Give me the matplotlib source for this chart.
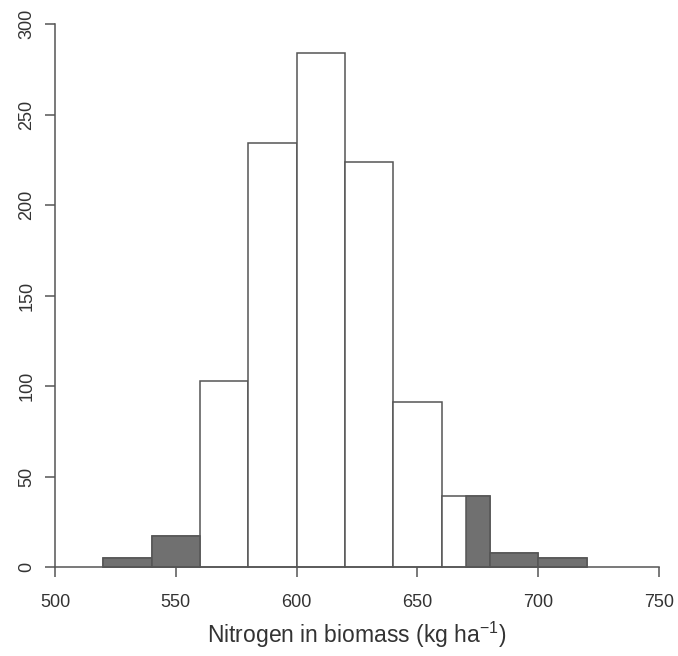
import matplotlib.pyplot as plt
import numpy as np

plt.rcParams['font.family'] = ['Liberation Sans', 'DejaVu Sans']
plt.rcParams['mathtext.fontset'] = 'custom'
plt.rcParams['mathtext.rm'] = 'Liberation Sans'
plt.rcParams['mathtext.it'] = 'Liberation Sans'

# histogram bins (kg ha-1) and counts
bin_left = [520, 540, 560, 580, 600, 620, 640, 660, 680, 700]
bin_width = 20
counts = [5, 17, 103, 234, 284, 224, 91, 39, 8, 5]
# shaded tails: below lower_cut and above upper_cut
lower_cut = 560
upper_cut = 670

x_ticks = [500, 550, 600, 650, 700, 750]
y_ticks = [0, 50, 100, 150, 200, 250, 300]

edge = '#555555'
fill = '#707070'
txt = '#333333'

fig = plt.figure(figsize=(6.78, 6.56), dpi=100)
W, H = 678, 656
ax = fig.add_axes([42.9 / W, 79.95 / H, 628.2 / W, 561.1 / H])

# white bars
ax.bar(bin_left, counts, width=bin_width, align='edge', color='white',
       edgecolor=edge, linewidth=1.1)

# shaded parts of the tails
for left, c in zip(bin_left, counts):
    right = left + bin_width
    lo_r = min(right, lower_cut)
    if lo_r > left:
        ax.bar(left, c, width=lo_r - left, align='edge', color=fill,
               edgecolor=edge, linewidth=1.1)
    hi_l = max(left, upper_cut)
    if right > hi_l:
        ax.bar(hi_l, c, width=right - hi_l, align='edge', color=fill,
               edgecolor=edge, linewidth=1.1)

ax.set_xlim(495, 755)
ax.set_ylim(-5, 305)

for s in ['top', 'right']:
    ax.spines[s].set_visible(False)
ax.spines['left'].set_position(('data', 500))
ax.spines['bottom'].set_position(('data', 0))
ax.spines['left'].set_bounds(0, 300)
ax.spines['bottom'].set_bounds(500, 750)
for s in ['left', 'bottom']:
    ax.spines[s].set_color(edge)
    ax.spines[s].set_linewidth(1.1)

ax.set_xticks(x_ticks)
ax.set_yticks(y_ticks)
ax.tick_params(axis='both', length=7, width=1.1, color=edge, labelsize=13,
               labelcolor=txt)
ax.tick_params(axis='x', pad=12.5)
ax.tick_params(axis='y', pad=7)
for lab in ax.get_yticklabels():
    lab.set_rotation(90)
    lab.set_va('center')

ax.set_xlabel('Nitrogen in biomass (kg ha$^{-1}$)', fontsize=16.5,
              color=txt, labelpad=6)

plt.savefig('out.png', dpi=100)
